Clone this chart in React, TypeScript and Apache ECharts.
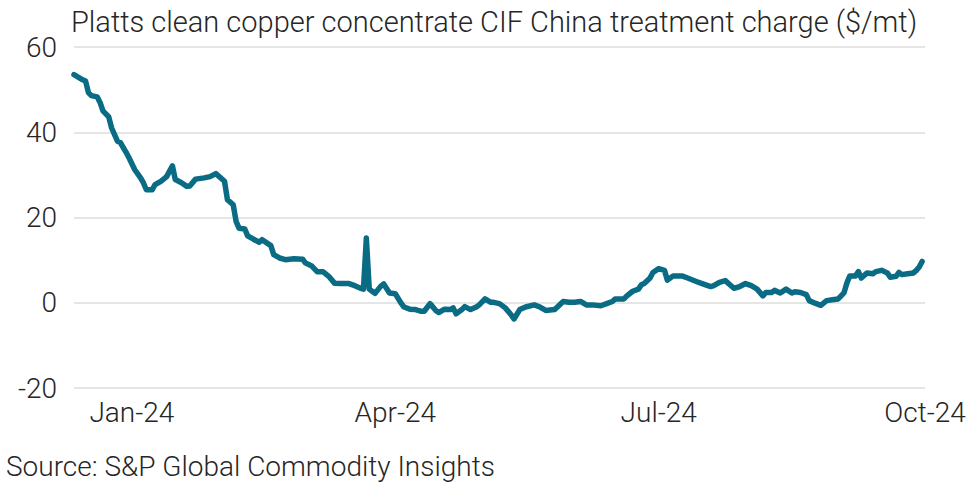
import React, { useEffect, useRef } from "react";
import * as echarts from "echarts";

// Days since 2023-12-12 for each observation
const dayOffsets: number[] = [
  0, 3, 4, 5, 6, 8, 9, 10, 12, 13, 15, 16, 18, 19, 21, 23, 24, 25, 27, 28,
  30, 32, 34, 35, 37, 39, 40, 42, 45, 47, 49, 52, 53, 55, 56, 57, 59, 60, 62, 64,
  65, 68, 69, 71, 73, 76, 79, 80, 82, 84, 86, 88, 90, 92, 95, 97, 99, 100, 101, 102,
  103, 104, 106, 107, 109, 111, 113, 114, 116, 118, 120, 121, 123, 125, 126, 128, 130, 131, 132, 134,
  135, 137, 139, 140, 142, 144, 145, 147, 149, 151, 152, 154, 156, 159, 161, 163, 166, 167, 169, 171,
  173, 175, 177, 179, 182, 184, 186, 187, 190, 191, 193, 195, 196, 197, 199, 200, 202, 204, 205, 207,
  210, 212, 215, 217, 220, 221, 223, 225, 227, 228, 230, 232, 234, 236, 238, 239, 241, 242, 244, 246,
  248, 249, 251, 253, 254, 256, 258, 260, 262, 264, 266, 267, 268, 270, 271, 272, 274, 276, 277, 279,
  281, 282, 284, 285, 286, 288, 290, 291, 292, 293,
];

const charges: number[] = [
  53.5, 52.3, 52.0, 49.3, 48.6, 48.3, 47.0, 45.0, 43.6, 41.0, 37.9, 37.6, 35.3, 34.0, 31.2, 29.3, 28.1, 26.5, 26.5, 27.7,
  28.5, 29.6, 32.1, 28.9, 28.2, 27.3, 27.4, 29.0, 29.3, 29.6, 30.3, 28.5, 24.2, 23.0, 19.1, 17.5, 17.3, 15.7, 14.9, 14.2,
  14.8, 13.4, 11.3, 10.5, 10.1, 10.3, 10.2, 9.3, 8.7, 7.3, 7.3, 6.2, 4.6, 4.5, 4.5, 4.0, 3.4, 3.2, 15.2, 3.2,
  2.7, 2.2, 3.9, 4.4, 2.3, 2.1, -0.1, -1.0, -1.5, -1.6, -2.0, -2.0, -0.2, -1.8, -2.3, -1.5, -1.6, -1.2, -2.6, -1.6,
  -0.9, -1.6, -1.0, -0.5, 0.9, 0.1, 0.1, -0.2, -1.2, -2.8, -3.8, -1.6, -1.0, -0.5, -1.0, -1.8, -1.6, -1.0, 0.3, 0.1,
  0.1, 0.3, -0.5, -0.5, -0.7, -0.2, 0.3, 0.9, 0.9, 1.6, 2.7, 3.2, 4.2, 4.5, 5.8, 7.1, 8.0, 7.6, 5.3, 6.3,
  6.3, 5.8, 5.0, 4.5, 3.8, 4.0, 4.8, 5.2, 4.0, 3.4, 3.8, 4.5, 4.0, 3.2, 1.6, 2.4, 2.4, 2.9, 2.3, 3.2,
  2.3, 2.6, 2.4, 1.9, 0.5, -0.1, -0.6, 0.5, 0.7, 0.9, 2.3, 4.6, 6.3, 6.3, 7.3, 5.8, 7.0, 6.8, 7.3, 7.6,
  7.0, 6.0, 6.2, 7.1, 6.6, 6.8, 7.0, 7.6, 8.4, 9.7,
];

const startDate = "2023-12-12";
const endDate = "2024-10-01";
const tickDates: string[] = ["2024-01-01", "2024-04-01", "2024-07-01", "2024-10-01"];
const monthNames: string[] = ["Jan", "Feb", "Mar", "Apr", "May", "Jun", "Jul", "Aug", "Sep", "Oct", "Nov", "Dec"];

const yTicks = { min: -20, max: 60, interval: 20 };

const titleText = "Platts clean copper concentrate CIF China treatment charge ($/mt)";
const sourceText = "Source: S&P Global Commodity Insights";

const DAY = 86400000;
const toTs = (s: string) => {
  const [y, m, d] = s.split("-").map(Number);
  return Date.UTC(y, m - 1, d);
};

export default function App() {
  const ref = useRef<HTMLDivElement>(null);
  useEffect(() => {
    if (!ref.current) return;
    const chart = echarts.init(ref.current, undefined, { renderer: "svg" });
    const start = toTs(startDate);
    const toDay = (s: string) => Math.round((toTs(s) - start) / DAY);
    const data = dayOffsets.map((d, i) => [d, charges[i]]);
    const font = "Roboto";
    const txt = { fontFamily: font, fontWeight: 300 as any, color: "#262626" };
    chart.setOption({
      animation: false,
      title: [
        {
          text: titleText,
          left: 66,
          top: 2,
          textStyle: { ...txt, fontSize: 29 },
        },
        {
          text: sourceText,
          left: 1,
          top: 447,
          textStyle: { ...txt, fontSize: 28 },
        },
      ],
      grid: { left: 74, right: 50, top: 47, bottom: 105, containLabel: false },
      xAxis: {
        type: "value",
        min: 0,
        max: toDay(endDate),
        axisLine: { show: false },
        axisTick: { show: false },
        splitLine: { show: false },
        axisLabel: {
          customValues: tickDates.map(toDay),
          formatter: (v: number) => {
            const dt = new Date(start + v * DAY);
            return `${monthNames[dt.getUTCMonth()]}-${String(dt.getUTCFullYear()).slice(2)}`;
          },
          ...txt,
          fontSize: 28,
          margin: 10,
          hideOverlap: false,
        },
      },
      yAxis: {
        type: "value",
        min: yTicks.min,
        max: yTicks.max,
        interval: yTicks.interval,
        axisLine: { show: false },
        axisTick: { show: false },
        splitLine: { show: true, lineStyle: { color: "#dcdcdc", width: 1.5 } },
        axisLabel: { ...txt, fontSize: 28, margin: 17 },
      },
      series: [
        {
          type: "line",
          data,
          showSymbol: false,
          symbol: "none",
          lineStyle: { color: "#0a6b85", width: 5.5, join: "round", cap: "round" },
          itemStyle: { color: "#0a6b85" },
        },
      ],
    });
    return () => chart.dispose();
  }, []);
  return <div ref={ref} style={{ width: 975, height: 493, position: "absolute", left: 0, top: 0, background: "#fff" }} />;
}
